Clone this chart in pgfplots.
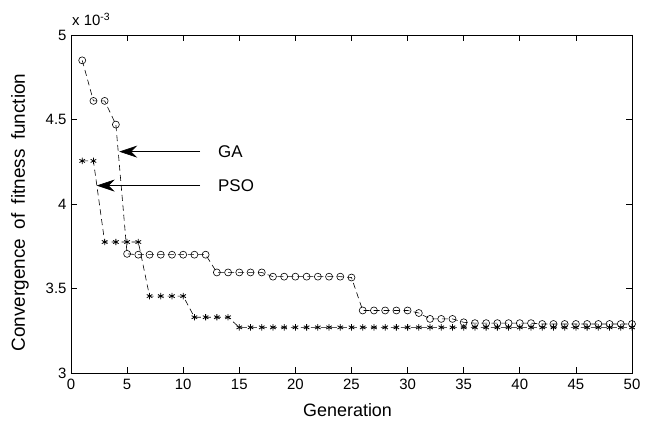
\documentclass[border=0pt]{standalone}
\usepackage{fontspec}
\setmainfont{Liberation Sans}
\usepackage{pgfplots}
\pgfplotsset{compat=1.18}
\usetikzlibrary{arrows.meta}

\begin{document}
\begin{tikzpicture}
\useasboundingbox (-71bp,-48bp) rectangle (579bp,373bp);
\begin{axis}[
    scale only axis,
    width=561bp, height=338bp,
    xmin=0, xmax=50, ymin=3, ymax=5,
    xtick={0,5,...,50},
    ytick={3,3.5,4,4.5,5},
    tick align=inside,
    major tick length=6bp,
    axis line style={line width=0.9bp},
    every tick/.style={line width=0.7bp, black},
    /pgf/number format/assume math mode=true,
    tick label style={font=\fontsize{15}{17}\selectfont},
    xticklabel style={yshift=-3bp},
    yticklabel style={xshift=-1bp},
    xlabel={Generation},
    ylabel={Convergence\hspace{0.5em}of\hspace{0.5em}fitness\hspace{0.5em}function},
    xlabel style={font=\fontsize{18}{20}\selectfont,
        at={(axis description cs:0.493,-0.1095)}, anchor=center},
    ylabel style={font=\fontsize{19}{21}\selectfont,
        at={(axis description cs:-0.091,0.475)}, anchor=center},
    clip=false,
]

% GA
\addplot[black, line width=0.6bp, dash pattern=on 6bp off 4bp,
    mark=o, mark size=3.5bp, mark options={solid}]
  coordinates {
    (1,4.85) (2,4.61) (3,4.61) (4,4.47) (5,3.705) (6,3.70) (7,3.70) (8,3.70)
    (9,3.70) (10,3.70) (11,3.70) (12,3.70) (13,3.595) (14,3.595) (15,3.595)
    (16,3.595) (17,3.595) (18,3.57) (19,3.57) (20,3.57) (21,3.57) (22,3.57)
    (23,3.57) (24,3.57) (25,3.565) (26,3.37) (27,3.37) (28,3.37) (29,3.37)
    (30,3.37) (31,3.355) (32,3.32) (33,3.32) (34,3.32) (35,3.30) (36,3.295)
    (37,3.295) (38,3.295) (39,3.295) (40,3.295) (41,3.295) (42,3.29) (43,3.29)
    (44,3.29) (45,3.29) (46,3.29) (47,3.29) (48,3.29) (49,3.29) (50,3.29)
  };

% PSO
\addplot[black, line width=0.6bp, dash pattern=on 6bp off 4bp,
    mark=asterisk, mark size=3.2bp, mark options={solid, line width=0.8bp}]
  coordinates {
    (1,4.255) (2,4.255) (3,3.775) (4,3.775) (5,3.775) (6,3.775) (7,3.455)
    (8,3.455) (9,3.455) (10,3.455) (11,3.33) (12,3.33) (13,3.33) (14,3.33)
    (15,3.27) (16,3.27) (17,3.27) (18,3.27) (19,3.27) (20,3.27) (21,3.27)
    (22,3.27) (23,3.27) (24,3.27) (25,3.27) (26,3.27) (27,3.27) (28,3.27)
    (29,3.27) (30,3.27) (31,3.27) (32,3.27) (33,3.27) (34,3.27) (35,3.27)
    (36,3.27) (37,3.27) (38,3.27) (39,3.27) (40,3.27) (41,3.27) (42,3.27)
    (43,3.27) (44,3.27) (45,3.27) (46,3.27) (47,3.27) (48,3.27) (49,3.27)
    (50,3.27)
  };

\node[anchor=base west, inner sep=0, font=\fontsize{15}{17}\selectfont]
  at (axis description cs:0,1) [yshift=9bp, xshift=1bp] {x 10\textsuperscript{-3}};

\draw[-{Stealth[length=18bp, width=12bp, inset=6bp]}, line width=0.6bp]
  (axis cs:11.5,4.31) -- (axis cs:4.30,4.31);
\node[anchor=west, inner sep=0, font=\fontsize{17}{19}\selectfont]
  at (axis cs:13.1,4.31) {GA};
\draw[-{Stealth[length=18bp, width=12bp, inset=6bp]}, line width=0.6bp]
  (axis cs:11.5,4.109) -- (axis cs:2.29,4.109);
\node[anchor=west, inner sep=0, font=\fontsize{17}{19}\selectfont]
  at (axis cs:13.1,4.109) {PSO};
\end{axis}
\end{tikzpicture}
\end{document}
